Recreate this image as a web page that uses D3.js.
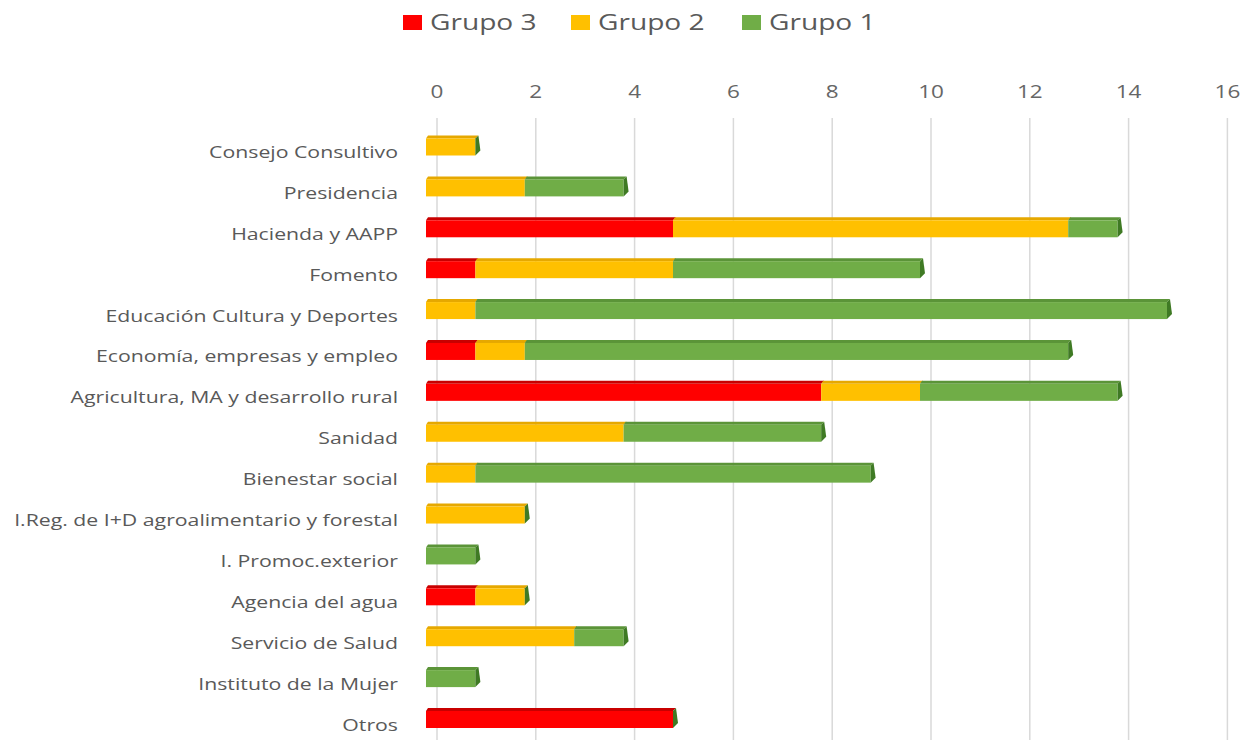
<!DOCTYPE html>
<html><head><meta charset="utf-8">
<script src="https://cdn.jsdelivr.net/npm/d3@7"></script>
<style>body{margin:0;background:#fff}svg{display:block}</style>
</head><body>
<svg id="c" width="1251" height="740"></svg>
<script>
const categories = ["Consejo Consultivo","Presidencia","Hacienda y AAPP","Fomento","Educación Cultura y Deportes","Economía, empresas y empleo","Agricultura, MA y desarrollo rural","Sanidad ","Bienestar social","I.Reg. de I+D agroalimentario y forestal","I. Promoc.exterior","Agencia del agua","Servicio de Salud","Instituto de la Mujer","Otros"];
const grupo3 = [0,0,5,1,0,1,8,0,0,0,0,1,0,0,5];
const grupo2 = [1,2,8,4,1,1,2,4,1,2,0,1,3,0,0];
const grupo1 = [0,2,1,5,14,11,4,4,8,0,1,0,1,1,0];
const ticks = [0,2,4,6,8,10,12,14,16];
const seriesNames = ["Grupo 3","Grupo 2","Grupo 1"];
const colors = ["#FF0000","#FFC000","#70AD47"];
const topColors = ["#C80000","#E6A800","#5B9438"];

const FONT = "'Open Sans', sans-serif";
const SX = 1.25; // horizontal stretch of the text in the reference
const svg = d3.select("#c");
const x = d3.scaleLinear().domain([0,16]).range([426, 426+16*49.4]);
const depth = 11;
const y = d3.scalePoint().domain(categories).range([145.5, 718]);
const barH = 20, topH = 3;

// gridlines
svg.append("g").selectAll("line").data(ticks).join("line")
  .attr("x1", d=>x(d)+depth).attr("x2", d=>x(d)+depth)
  .attr("y1", 118).attr("y2", 740)
  .attr("stroke","#D9D9D9").attr("stroke-width",1.5);

// tick labels
svg.append("g").selectAll("g").data(ticks).join("g")
  .attr("transform", d=>`translate(${x(d)+depth},98) scale(${SX},1)`)
  .append("text").attr("text-anchor","middle")
  .attr("font-family",FONT).attr("font-size",18)
  .attr("fill","#666").text(d=>d);

// stacked data
const rows = categories.map((c,i)=>({cat:c, vals:[grupo3[i],grupo2[i],grupo1[i]]}));
const segs = [];
rows.forEach(r=>{
  let acc=0;
  r.vals.forEach((v,k)=>{ if(v>0) segs.push({cat:r.cat,k,x0:acc,x1:acc+v}); acc+=v; });
  r.total=acc;
});

const g = svg.append("g");
g.selectAll("path.top").data(segs).join("path")
  .attr("d", d=>{const yt=y(d.cat)-barH/2; return `M${x(d.x0)},${yt+topH} L${x(d.x0)+2},${yt} L${x(d.x1)+3},${yt} L${x(d.x1)},${yt+topH} Z`;})
  .attr("fill", d=>topColors[d.k]);
g.selectAll("rect.front").data(segs).join("rect")
  .attr("x", d=>x(d.x0)).attr("width", d=>x(d.x1)-x(d.x0))
  .attr("y", d=>y(d.cat)-barH/2+topH).attr("height", barH-topH)
  .attr("fill", d=>colors[d.k]);
g.selectAll("path.cap").data(rows).join("path")
  .attr("d", d=>{const xe=x(d.total), yt=y(d.cat)-barH/2; return `M${xe},${yt+topH} L${xe+3},${yt} L${xe+5},${yt+barH-5} L${xe},${yt+barH} Z`;})
  .attr("fill","#3F7A24");

// category labels
svg.append("g").selectAll("g").data(categories).join("g")
  .attr("transform", d=>`translate(398,${y(d)+12.5}) scale(${SX},1)`)
  .append("text").attr("text-anchor","end")
  .attr("font-family",FONT).attr("font-size",17)
  .attr("fill","#595959").text(d=>d);

// legend
const legSq = [403, 571, 742];
const lg = svg.append("g");
seriesNames.forEach((n,i)=>{
  lg.append("rect").attr("x",legSq[i]).attr("y",15).attr("width",19).attr("height",15).attr("fill",colors[i]);
  lg.append("g").attr("transform",`translate(${legSq[i]+27},30) scale(${SX},1)`)
    .append("text")
    .attr("font-family",FONT).attr("font-size",22.5)
    .attr("fill","#595959").text(n);
});
</script>
</body></html>
